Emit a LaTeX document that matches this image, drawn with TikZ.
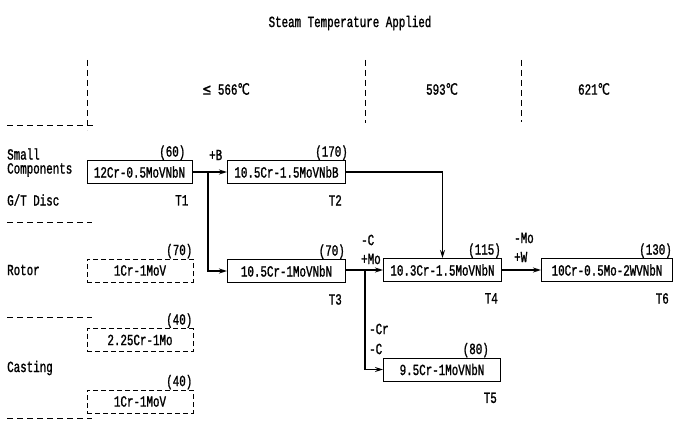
\documentclass[tikz,border=0pt]{standalone}
\usepackage{fontspec}
\setmonofont[FakeStretch=0.7,FakeBold=1.2]{Liberation Mono}
\newfontfamily\degfont[FakeStretch=0.7,FakeBold=1.2]{DejaVu Sans}
\usetikzlibrary{positioning, arrows.meta}
\newcommand{\degc}{{\degfont ℃}}

\begin{document}
\begin{tikzpicture}[x=1pt,y=-1pt,
        every node/.style={font=\ttfamily\fontsize{15.5}{17}\selectfont,inner sep=1pt},
        alloy/.style={draw,line width=1pt,minimum height=23pt,inner sep=2pt},
        oldalloy/.style={alloy,dashed,dash pattern=on 5pt off 3pt},
        wt/.style={anchor=south east,yshift=-1pt},
        tag/.style={anchor=north east,yshift=-10pt,xshift=-3pt},
        chem/.style={anchor=west},
        sep/.style={dashed,line width=1pt,dash pattern=on 6pt off 4pt},
        arrow/.style={-{Stealth[length=8pt,width=5pt]},line width=1.5pt}]
    \useasboundingbox (0,0) rectangle (675,428);
    % title and temperature bands
    \node (title) at (350,23) {Steam Temperature Applied};
    \node (t566) at (226,89) {{\degfont ≤} 566\degc};
    \node (t593) at (442,89) {593\degc};
    \node (t621) at (594,89) {621\degc};
    \draw[sep] (87,60) -- (87,130);
    \draw[sep] (7,125) -- (93,125);
    \draw[sep] (365,60) -- (365,123);
    \draw[sep] (521,60) -- (521,122);
    % row labels
    \node[anchor=west] (small) at (6,154) {Small};
    \node[anchor=west] (comp) at (6,170) {Components};
    \node[anchor=west] (disc) at (6,200) {G/T Disc};
    \node[anchor=west] (rotor) at (6,270) {Rotor};
    \node[anchor=west] (cast) at (6,368) {Casting};
    \draw[sep] (7,222) -- (92,222);
    \draw[sep] (7,317) -- (92,317);
    \draw[sep] (7,418) -- (92,418);
    % alloys
    \node[alloy,minimum width=105pt] (T1) at (139.5,172) {12Cr-0.5MoVNbN};
    \node[alloy,minimum width=118pt,anchor=west] (T2) at (227,172) {10.5Cr-1.5MoVNbB};
    \node[alloy,minimum width=118pt,anchor=west] (T3) at (227,271) {10.5Cr-1MoVNbN};
    \node[alloy,minimum width=118pt,anchor=west] (T4) at (383,270) {10.3Cr-1.5MoVNbN};
    \node[alloy,minimum width=117pt,anchor=west] (T5) at (383,369.5) {9.5Cr-1MoVNbN};
    \node[alloy,minimum width=131pt,anchor=west] (T6) at (541,270) {10Cr-0.5Mo-2WVNbN};
    \node[oldalloy,minimum width=106pt] (R1) at (140,270.5) {1Cr-1MoV};
    \node[oldalloy,minimum width=106pt] (C1) at (140,340) {2.25Cr-1Mo};
    \node[oldalloy,minimum width=106pt] (C2) at (140,401.5) {1Cr-1MoV};
    % strength values
    \node[wt,xshift=-6pt] (w1) at (T1.north east) {(60)};
    \node[wt,xshift=3pt] (w2) at (T2.north east) {(170)};
    \node[wt] (w3) at (T3.north east) {(70)};
    \node[wt] (w4) at (T4.north east) {(115)};
    \node[wt,xshift=-11pt] (w5) at (T5.north east) {(80)};
    \node[wt] (w6) at (T6.north east) {(130)};
    \node[wt] (wr) at (R1.north east) {(70)};
    \node[wt] (wc1) at (C1.north east) {(40)};
    \node[wt] (wc2) at (C2.north east) {(40)};
    % type numbers
    \node[tag] (n1) at (T1.south east) {T1};
    \node[tag] (n2) at (T2.south east) {T2};
    \node[tag] (n3) at (T3.south east) {T3};
    \node[tag] (n4) at (T4.south east) {T4};
    \node[tag] (n5) at (T5.south east) {T5};
    \node[tag] (n6) at (T6.south east) {T6};
    % development paths
    \coordinate (b1) at (208,172);
    \coordinate (b2) at (365,270);
    \draw[arrow] (T1.east) -- (T2.west);
    \draw[arrow] (b1) |- (T3.west);
    \draw[arrow] (T2.east) -| (T4.north);
    \draw[arrow] (T3.east |- b2) -- (T4.west);
    \draw[arrow] (b2) |- (T5.west);
    \draw[arrow] (T4.east) -- (T6.west);
    \node[chem] (addb) at (208,155) {+B};
    \node[chem] (lessc) at (360,240) {-C};
    \node[chem] (addmo) at (360,259) {+Mo};
    \node[chem] (lessmo) at (513,238) {-Mo};
    \node[chem] (addw) at (513,257) {+W};
    \node[chem] (lesscr) at (368,329) {-Cr};
    \node[chem] (lessc2) at (368,349) {-C};
\end{tikzpicture}
\end{document}
